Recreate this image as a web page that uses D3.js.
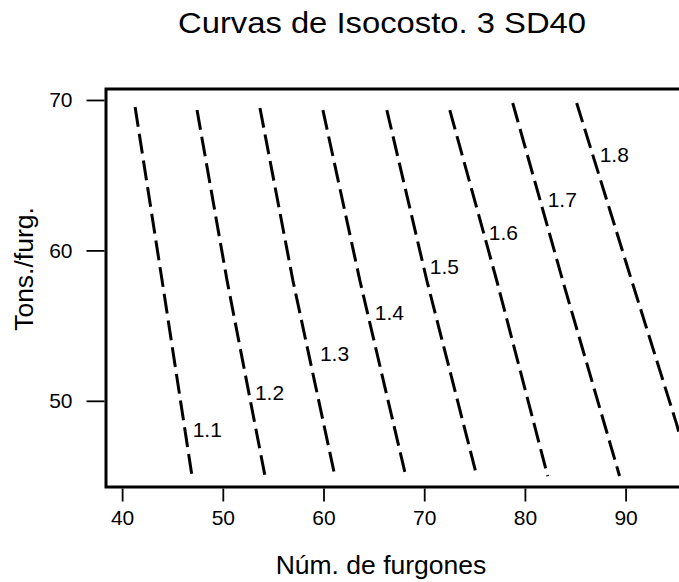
<!DOCTYPE html>
<html lang="es">
<head>
<meta charset="utf-8">
<title>Curvas de Isocosto</title>
<script src="https://d3js.org/d3.v7.min.js"></script>
<style>
  body { margin: 0; background: #fff; }
  svg text { font-family: "Liberation Sans", Arial, Helvetica, sans-serif; fill: #000; }
  .contour { fill: none; stroke: #000; stroke-width: 3px; stroke-dasharray: 20,7; }
</style>
</head>
<body>
<svg width="679" height="582"></svg>
<script>
// contour levels (cost) and the x (num. de furgones) of each line at the given y (tons/furg.)
var levels = ["1.1", "1.2", "1.3", "1.4", "1.5", "1.6", "1.7", "1.8"];
var lineY = [
  [69.53, 58.0, 45.0],
  [69.33, 58.0, 45.0],
  [69.47, 58.0, 45.0],
  [69.33, 58.0, 45.0],
  [69.33, 58.0, 45.0],
  [69.33, 58.0, 45.0],
  [69.8, 58.0, 45.0],
  [69.8, 58.0, 48.47, 45.0]
];
var lineX = [
  [41.29, 43.97, 46.94],
  [47.44, 50.42, 54.19],
  [53.69, 56.96, 61.13],
  [59.94, 63.61, 68.17],
  [66.29, 70.26, 75.22],
  [72.54, 77.20, 82.26],
  [78.79, 83.75, 89.40],
  [85.14, 90.60, 95.06, 96.5]
];
// where the level labels sit (left edge, baseline), data units
var labelX = [47.01, 53.19, 59.64, 65.10, 70.56, 76.41, 82.26, 87.42];
var labelY = [47.6, 50.07, 52.67, 55.4, 58.4, 60.67, 62.87, 65.87];

var xTicks = [40, 50, 60, 70, 80, 90];
var yTicks = [50, 60, 70];

var svg = d3.select("svg");
var plotL = 106, plotR = 682, plotT = 89, plotB = 487;

var x = d3.scaleLinear().domain([38.4, 95.6]).range([plotL, plotR]);
var y = d3.scaleLinear().domain([44.27, 70.73]).range([plotB, plotT]);

svg.append("defs").append("clipPath").attr("id", "plotclip")
  .append("rect")
    .attr("x", plotL).attr("y", plotT)
    .attr("width", plotR - plotL).attr("height", plotB - plotT);

// title
svg.append("text")
    .attr("x", 382).attr("y", 33)
    .attr("text-anchor", "middle")
    .attr("textLength", 408)
    .attr("lengthAdjust", "spacingAndGlyphs")
    .style("font-size", "30px")
    .text("Curvas de Isocosto. 3 SD40");

// contour lines
var line = d3.line()
    .x(function(d) { return x(d[0]); })
    .y(function(d) { return y(d[1]); });

var g = svg.append("g").attr("clip-path", "url(#plotclip)");

levels.forEach(function(lv, i) {
  var pts = lineX[i].map(function(v, j) { return [v, lineY[i][j]]; });
  g.append("path")
      .attr("class", "contour")
      .attr("d", line(pts));
  g.append("text")
      .attr("x", x(labelX[i]))
      .attr("y", y(labelY[i]))
      .style("font-size", "21px")
      .text(lv);
});

// box
svg.append("rect")
    .attr("x", plotL).attr("y", plotT)
    .attr("width", plotR - plotL).attr("height", plotB - plotT)
    .attr("fill", "none")
    .attr("stroke", "#000")
    .attr("stroke-width", 3);

// axes
var xAxis = d3.axisBottom(x).tickValues(xTicks).tickSize(13).tickPadding(9);
var yAxis = d3.axisLeft(y).tickValues(yTicks).tickSize(18).tickPadding(14);

var gx = svg.append("g")
    .attr("transform", "translate(0," + (plotB + 1.5) + ")")
    .call(xAxis);
var gy = svg.append("g")
    .attr("transform", "translate(" + (plotL - 1.5) + ",0)")
    .call(yAxis);

[gx, gy].forEach(function(a) {
  a.attr("font-size", null).attr("font-family", null);
  a.select(".domain").remove();
  a.selectAll(".tick line").attr("stroke", "#000").attr("stroke-width", 1.8);
  a.selectAll(".tick text")
      .style("font-size", "21px")
      .attr("fill", "#000");
});

// axis titles
svg.append("text")
    .attr("x", 381).attr("y", 574)
    .attr("text-anchor", "middle")
    .style("font-size", "26.5px")
    .text("Núm. de furgones");

svg.append("text")
    .attr("transform", "translate(33,269) rotate(-90)")
    .attr("text-anchor", "middle")
    .style("font-size", "26.5px")
    .text("Tons./furg.");
</script>
</body>
</html>
